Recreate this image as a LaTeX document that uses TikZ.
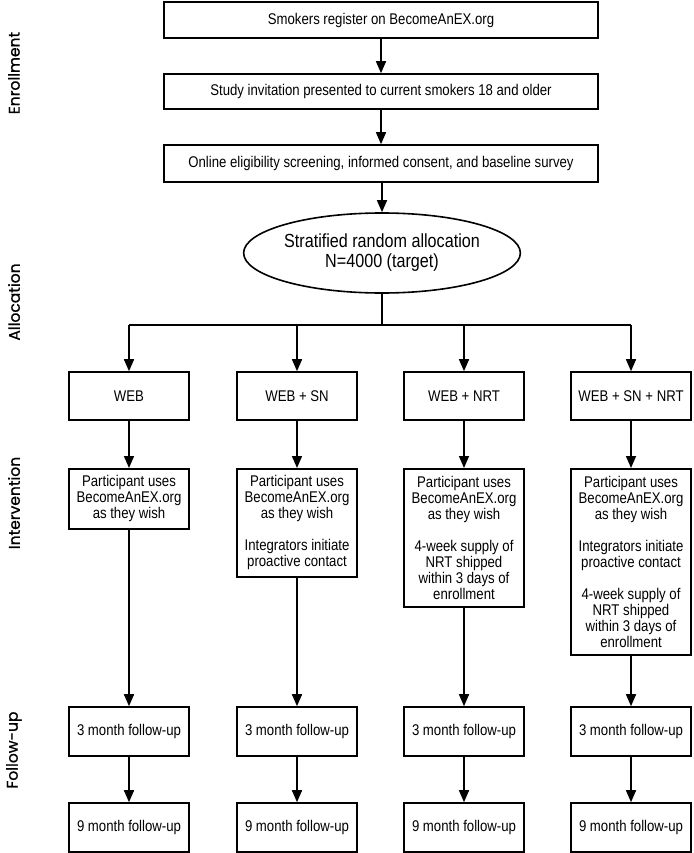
\documentclass[tikz,border=0pt]{standalone}
\usepackage{fontspec}
\setmainfont[FakeStretch=0.85]{Liberation Sans}
\newfontfamily\labfont[FakeBold=0.8]{Poppins}
\usetikzlibrary{arrows.meta,shapes.geometric}
\newcommand\boxfs{\fontsize{15.5}{16}\selectfont}
\newcommand\ellfs{\fontsize{19}{20}\selectfont}
\begin{document}
\begin{tikzpicture}[x=1pt,y=-1pt,
  box/.style={draw=black, line width=1.6pt, fill=white, inner sep=2pt, align=center, font=\boxfs},
  topbox/.style={box, minimum width=434pt},
  grpbox/.style={box, minimum width=120pt},
  arr/.style={line width=1.5pt, -{Triangle[width=10pt,length=12pt]}},
  ln/.style={line width=1.5pt},
  lab/.style={rotate=90, font=\labfont\fontsize{15.5}{17}\selectfont}]
\useasboundingbox (0,0) rectangle (693,853);

% side labels
\node[lab] (l1) at (14,73) {Enrollment};
\node[lab] (l2) at (14,302) {Allocation};
\node[lab] (l3) at (14,503) {Intervention};
\node[lab] (l4) at (14,750) {Follow-up};

% enrollment
\node[topbox, minimum height=36pt] (b1) at (381,20) {Smokers register on BecomeAnEX.org};
\node[topbox, minimum height=35pt] (b2) at (381,91.5) {Study invitation presented to current smokers 18 and older};
\node[topbox, minimum height=37pt] (b3) at (381,163.5) {Online eligibility screening, informed consent, and baseline survey};
\node[draw=black, ellipse, line width=1.6pt, fill=white, minimum width=258pt, minimum height=80pt, inner sep=0pt, align=center, font=\ellfs] (el) at (382,253) {Stratified random allocation\\N=4000 (target)};

\draw[arr] (b1) -- (b2);
\draw[arr] (b2) -- (b3);
\draw[arr] (b3.south -| el.north) -- (el.north);

% junction
\coordinate (j) at (382,325);
\coordinate (jl) at (129,325);
\coordinate (jr) at (631,325);
\draw[ln] (el.south) -- (j);
\draw[ln] (jl) -- (jr);

% groups
\node[grpbox, minimum height=48pt] (g1) at (129,396) {WEB};
\node[grpbox, minimum height=48pt] (g2) at (297,396) {WEB + SN};
\node[grpbox, minimum height=48pt] (g3) at (464,396) {WEB + NRT};
\node[grpbox, minimum height=48pt] (g4) at (631,396) {WEB + SN + NRT};

\draw[arr] (jl) -- (g1);
\draw[arr] (g2 |- jl) -- (g2);
\draw[arr] (g3 |- jl) -- (g3);
\draw[arr] (jr) -- (g4);

% interventions
\node[grpbox, anchor=north, minimum height=60pt] (i1) at (129,468) {Participant uses\\BecomeAnEX.org\\as they wish};
\node[grpbox, anchor=north, minimum height=108pt] (i2) at (297,468) {Participant uses\\BecomeAnEX.org\\as they wish\\[16pt]Integrators initiate\\proactive contact};
\node[grpbox, anchor=north, minimum height=138pt] (i3) at (464,468) {Participant uses\\BecomeAnEX.org\\as they wish\\[16pt]4-week supply of\\NRT shipped\\within 3 days of\\enrollment};
\node[grpbox, anchor=north, minimum height=186pt] (i4) at (631,468) {Participant uses\\BecomeAnEX.org\\as they wish\\[16pt]Integrators initiate\\proactive contact\\[16pt]4-week supply of\\NRT shipped\\within 3 days of\\enrollment};

% follow-ups
\node[grpbox, minimum height=49pt] (f1) at (129,731.5) {3 month follow-up};
\node[grpbox, minimum height=49pt] (f2) at (297,731.5) {3 month follow-up};
\node[grpbox, minimum height=49pt] (f3) at (464,731.5) {3 month follow-up};
\node[grpbox, minimum height=49pt] (f4) at (631,731.5) {3 month follow-up};
\node[grpbox, minimum height=49pt] (n1) at (129,827.5) {9 month follow-up};
\node[grpbox, minimum height=49pt] (n2) at (297,827.5) {9 month follow-up};
\node[grpbox, minimum height=49pt] (n3) at (464,827.5) {9 month follow-up};
\node[grpbox, minimum height=49pt] (n4) at (631,827.5) {9 month follow-up};

\foreach \k in {1,2,3,4}{
  \draw[arr] (g\k) -- (i\k);
  \draw[arr] (i\k) -- (f\k);
  \draw[arr] (f\k) -- (n\k);
}
\end{tikzpicture}
\end{document}
